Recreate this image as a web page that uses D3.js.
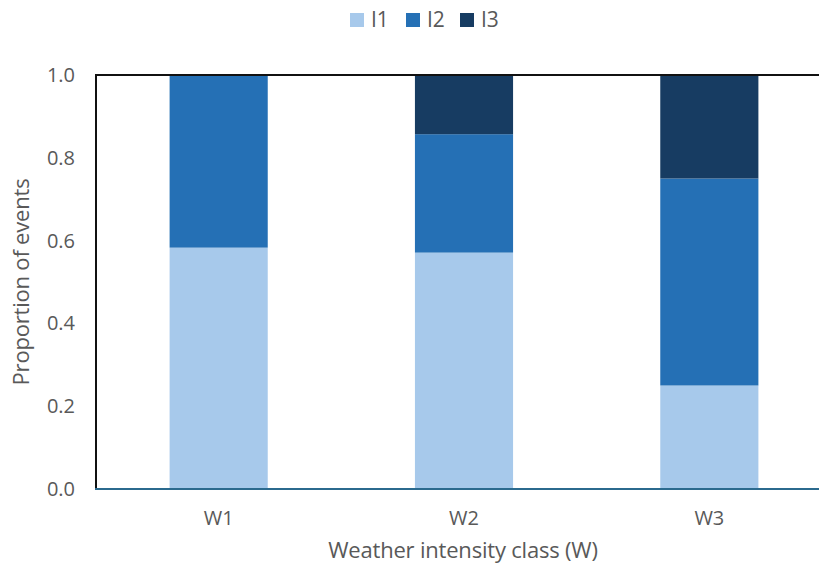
<!DOCTYPE html>
<html>
<head>
<meta charset="utf-8">
<script src="https://cdn.jsdelivr.net/npm/d3@7"></script>
<style>
  html, body { margin: 0; padding: 0; background: #fff; }
  svg { display: block; }
  text { font-family: "Open Sans", "Noto Sans", sans-serif; fill: #595959; }
</style>
</head>
<body>
<svg id="chart" width="819" height="567"></svg>
<script>
// Weather intensity classes and the share of events per impact level
const categories = ["W1", "W2", "W3"];
const seriesNames = ["I1", "I2", "I3"];
const I1 = [0.583, 0.571, 0.25];
const I2 = [0.417, 0.286, 0.50];
const I3 = [0.0, 0.143, 0.25];
const yTicks = [0.0, 0.2, 0.4, 0.6, 0.8, 1.0];
const colors = ["#a7c9eb", "#2570b5", "#173c62"];

const svg = d3.select("#chart");
const margin = { left: 96, top: 75, bottom: 489 };
const plotRight = 832;
const fontStack = '"Open Sans", sans-serif';

const x = d3.scaleBand().domain(categories).range([margin.left, plotRight]).paddingInner(0.6).paddingOuter(0.3);
const y = d3.scaleLinear().domain([0, 1]).range([margin.bottom, margin.top]);

const rows = categories.map((c, i) => ({ cat: c, I1: I1[i], I2: I2[i], I3: I3[i] }));
const stacked = d3.stack().keys(seriesNames)(rows);
const color = d3.scaleOrdinal().domain(seriesNames).range(colors);

// stacked bars
svg.append("g").selectAll("g").data(stacked).join("g")
  .attr("fill", d => color(d.key))
  .selectAll("rect").data(d => d.filter(p => p[1] - p[0] > 0)).join("rect")
  .attr("x", d => x(d.data.cat))
  .attr("width", x.bandwidth())
  .attr("y", d => y(d[1]))
  .attr("height", d => y(d[0]) - y(d[1]));

// frame: top edge and left axis line
svg.append("line").attr("x1", margin.left).attr("x2", 819)
  .attr("y1", y(1)).attr("y2", y(1)).attr("stroke", "#111").attr("stroke-width", 2);
svg.append("line").attr("x1", margin.left).attr("x2", margin.left)
  .attr("y1", y(1) - 1).attr("y2", y(0)).attr("stroke", "#111").attr("stroke-width", 2);
// baseline
svg.append("line").attr("x1", margin.left - 1).attr("x2", 819)
  .attr("y1", y(0)).attr("y2", y(0)).attr("stroke", "#2b6a8e").attr("stroke-width", 2);

// y axis tick labels
const yAxis = d3.axisLeft(y).tickValues(yTicks).tickFormat(d3.format(".1f")).tickSize(0).tickPadding(21);
const gy = svg.append("g").attr("transform", `translate(${margin.left},0)`).call(yAxis);
gy.select(".domain").remove();
gy.selectAll("text").attr("font-size", 20).attr("fill", "#595959").style("font-family", fontStack);

// x axis category labels
const xAxis = d3.axisBottom(x).tickSize(0).tickPadding(22);
const gx = svg.append("g").attr("transform", `translate(0,${y(0)})`).call(xAxis);
gx.select(".domain").remove();
gx.selectAll("text").attr("font-size", 20).attr("fill", "#595959").style("font-family", fontStack);

// axis titles
svg.append("text").attr("x", 463).attr("y", 558)
  .attr("text-anchor", "middle").attr("font-size", 22).attr("letter-spacing", -0.2)
  .text("Weather intensity class (W)");
svg.append("text").attr("transform", `translate(29,${(margin.top + margin.bottom) / 2}) rotate(-90)`)
  .attr("text-anchor", "middle").attr("font-size", 22).attr("letter-spacing", -0.2)
  .text("Proportion of events");

// legend
const legendX = [350, 406, 460];
const lg = svg.append("g").selectAll("g").data(seriesNames).join("g")
  .attr("transform", (d, i) => `translate(${legendX[i]},13)`);
lg.append("rect").attr("width", 14).attr("height", 14).attr("fill", d => color(d));
lg.append("text").attr("x", 21).attr("y", 14).attr("font-size", 21).text(d => d);
</script>
</body>
</html>
